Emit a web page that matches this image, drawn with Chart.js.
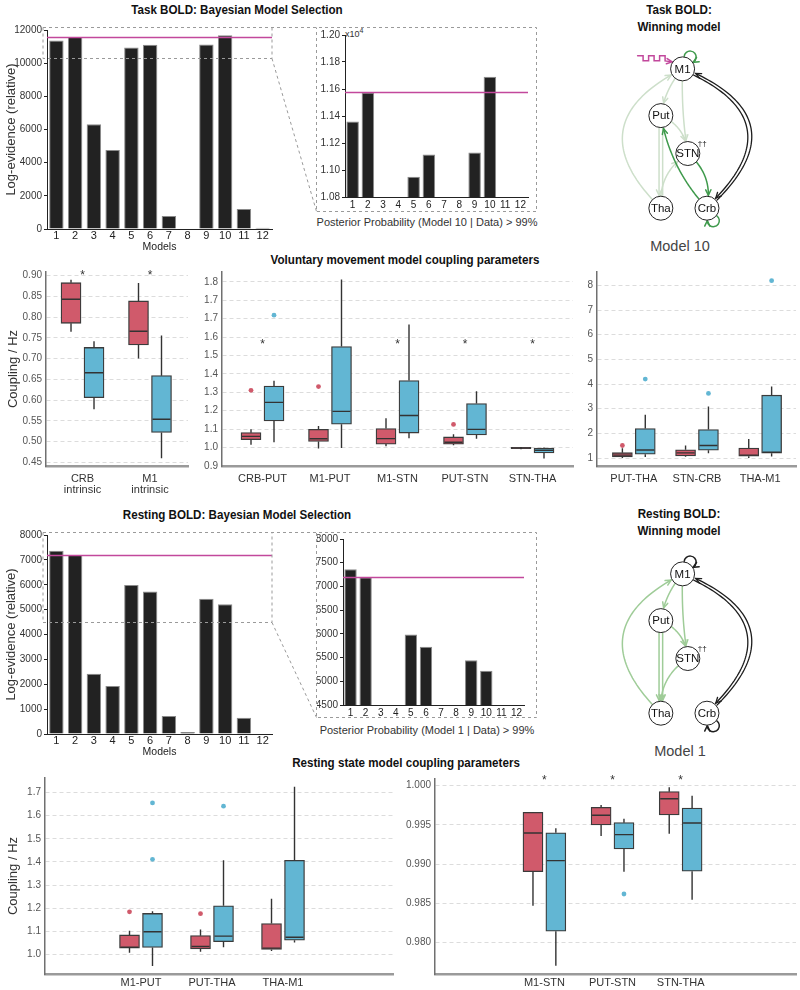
<!DOCTYPE html>
<html>
<head>
<meta charset="utf-8">
<title>BOLD model selection and coupling parameters</title>
<script src="https://cdn.jsdelivr.net/npm/chart.js@4.4.1/dist/chart.umd.min.js"></script>
<style>
  html, body { margin: 0; padding: 0; background: #fff; }
  #fig { position: relative; width: 800px; height: 990px; overflow: hidden;
         font-family: "Liberation Sans", Arial, sans-serif; color: #222; }
  .panel { position: absolute; }
  .panel canvas { display: block; }
  .txt { position: absolute; white-space: nowrap; line-height: 1; transform: translateX(-50%); }
  .title { font-weight: bold; font-size: 13.5px; color: #111; transform: translateX(-50%) scaleX(0.86); }
  .note { font-size: 11px; color: #333; }
  .model { font-size: 14.5px; color: #444; }
  .exp { font-size: 9px; color: #333; transform: none; }
  .exp sup { font-size: 7px; }
</style>
</head>
<body>
<div id="fig">
  <div class="txt title" style="left:237px;top:3px">Task BOLD: Bayesian Model Selection</div>
  <div class="txt title" style="left:679px;top:3px">Task BOLD:</div>
  <div class="txt title" style="left:679px;top:20px">Winning model</div>
  <div class="txt exp" style="left:345px;top:27px">x10<sup>4</sup></div>
  <div class="txt note" style="left:427px;top:217px">Posterior Probability (Model 10 | Data) &gt; 99%</div>
  <div class="txt model" style="left:680px;top:239px">Model 10</div>
  <div class="txt title" style="left:405px;top:253px">Voluntary movement model coupling parameters</div>
  <div class="txt title" style="left:237px;top:508px">Resting BOLD: Bayesian Model Selection</div>
  <div class="txt title" style="left:679px;top:507px">Resting BOLD:</div>
  <div class="txt title" style="left:679px;top:524px">Winning model</div>
  <div class="txt note" style="left:427px;top:725px">Posterior Probability (Model 1 | Data) &gt; 99%</div>
  <div class="txt model" style="left:680px;top:744px">Model 1</div>
  <div class="txt title" style="left:406px;top:756px">Resting state model coupling parameters</div>
</div>
<script>
// ---- data ----
const models = ['1', '2', '3', '4', '5', '6', '7', '8', '9', '10', '11', '12'];

// task BOLD log-evidence (relative) per model
const taskEvidence = [11360, 11575, 6320, 4760, 10950, 11115, 780, 0, 11130, 11690, 1200, 80];
const taskWinLine = 11575;
const taskTicks = [0, 2000, 4000, 6000, 8000, 10000, 12000];
const taskInsetTicks = [10800, 11000, 11200, 11400, 11600, 11800, 12000];
const taskZoom = [10300, 12000];

// resting BOLD log-evidence (relative) per model
const restEvidence = [7362, 7191, 2427, 1933, 5989, 5729, 720, 80, 5441, 5221, 653, 20];
const restWinLine = 7190;
const restTicks = [0, 1000, 2000, 3000, 4000, 5000, 6000, 7000, 8000];
const restInsetTicks = [4500, 5000, 5500, 6000, 6500, 7000, 7500, 8000];
const restZoom = [4500, 8000];

// box stats: [min, q1, median, q3, max]
const intrCats = [['CRB', 'intrinsic'], ['M1', 'intrinsic']];
const intrRed = [[0.765, 0.785, 0.843, 0.883, 0.890], [0.700, 0.733, 0.766, 0.839, 0.882]];
const intrBlue = [[0.578, 0.606, 0.666, 0.727, 0.742], [0.460, 0.522, 0.554, 0.659, 0.756]];
const intrRedOut = [];
const intrBlueOut = [];
const intrStars = [0, 1];
const intrTicks = [0.45, 0.50, 0.55, 0.60, 0.65, 0.70, 0.75, 0.80, 0.85, 0.90];

const volCats = ['CRB-PUT', 'M1-PUT', 'M1-STN', 'PUT-STN', 'STN-THA'];
const volRed = [
  [1.004, 1.029, 1.045, 1.063, 1.080],
  [0.985, 1.020, 1.033, 1.079, 1.095],
  [0.997, 1.007, 1.034, 1.083, 1.133],
  [1.001, 1.007, 1.016, 1.042, 1.055],
  [0.982, 0.985, 0.988, 0.991, 0.993]
];
const volBlue = [
  [1.016, 1.120, 1.211, 1.291, 1.316],
  [0.988, 1.104, 1.167, 1.484, 1.811],
  [1.035, 1.061, 1.147, 1.318, 1.591],
  [1.033, 1.052, 1.079, 1.205, 1.265],
  [0.937, 0.964, 0.977, 0.988, 0.990]
];
const volRedOut = [[0, 1.270], [1, 1.288], [3, 1.103]];
const volBlueOut = [[0, 1.637]];
const volStars = [0, 2, 3, 4];
const volTicks = [0.9, 0.99, 1.08, 1.17, 1.26, 1.35, 1.44, 1.53, 1.62, 1.71, 1.8];
const volTickLabels = ['0.9', '1.0', '1.1', '1.2', '1.3', '1.4', '1.5', '1.6', '1.7', '1.7', '1.8'];

const vol2Cats = ['PUT-THA', 'STN-CRB', 'THA-M1'];
const vol2Red = [[1.00, 1.05, 1.12, 1.22, 1.40], [1.05, 1.09, 1.21, 1.34, 1.51], [1.00, 1.08, 1.12, 1.41, 1.77]];
const vol2Blue = [[1.04, 1.16, 1.33, 2.20, 2.76], [1.20, 1.32, 1.51, 2.16, 3.09], [1.06, 1.20, 1.24, 3.55, 3.90]];
const vol2RedOut = [[0, 1.51]];
const vol2BlueOut = [[0, 4.20], [1, 3.62], [2, 8.19]];
const vol2Ticks = [1, 2, 3, 4, 5, 6, 7, 8];

const restCats = ['M1-PUT', 'PUT-THA', 'THA-M1'];
const restRed = [[1.007, 1.027, 1.031, 1.084, 1.102], [1.011, 1.023, 1.034, 1.081, 1.108], [1.015, 1.021, 1.027, 1.133, 1.241]];
const restBlue = [[0.950, 1.030, 1.098, 1.177, 1.186], [1.031, 1.055, 1.079, 1.210, 1.407], [1.051, 1.061, 1.074, 1.407, 1.725]];
const restRedOut = [[0, 1.184], [1, 1.176]];
const restBlueOut = [[0, 1.655], [0, 1.411], [1, 1.641]];
const restBoxTicks = [1.0, 1.1, 1.2, 1.3, 1.4, 1.5, 1.6, 1.7];

const rest2Cats = ['M1-STN', 'PUT-STN', 'STN-THA'];
const rest2Red = [[0.98471, 0.98905, 0.99397, 0.99660, 0.99665], [0.99359, 0.99500, 0.99623, 0.99725, 0.99754], [0.99389, 0.99627, 0.99834, 0.99924, 0.99980]];
const rest2Blue = [[0.97707, 0.98145, 0.99045, 0.99400, 0.99457], [0.98905, 0.99194, 0.99376, 0.99529, 0.99580], [0.98548, 0.98910, 0.99525, 0.99716, 0.99873]];
const rest2RedOut = [];
const rest2BlueOut = [[1, 0.9862]];
const rest2Stars = [0, 1, 2];
const rest2Ticks = [0.980, 0.985, 0.990, 0.995, 1.000];

// network diagrams
const netNodes = ['M1', 'Put', 'STN', 'Tha', 'Crb'];
const netX = [80, 55, 86, 55, 108];
const netY = [18, 71, 114, 176, 176];
// [from, to, colour, bend, shift, arrow]
const taskEdges = [
  ['Tha', 'M1', 'faint', -0.7, 0, 1],
  ['M1', 'Put', 'faint', 0.15, 0, 1],
  ['M1', 'STN', 'faint', 0.05, 0, 1],
  ['Put', 'STN', 'faint', -0.3, 0, 1],
  ['Put', 'Tha', 'faint', 0, 1.8, 1],
  ['Put', 'Tha', 'faint', 0, -1.8, 0],
  ['Tha', 'STN', 'faint', -0.3, 0, 1],
  ['STN', 'Crb', 'green', -0.3, 0, 1],
  ['Crb', 'Put', 'green', -0.15, 0, 1],
  ['M1', 'Crb', 'black', -0.78, 2, 1],
  ['Crb', 'M1', 'black', 0.78, 2, 1]
];
const taskLoops = [['M1', 'green', -1.0], ['Crb', 'green', 1.1]];
const taskInputs = ['M1'];
const restEdges = [
  ['Tha', 'M1', 'faint', -0.7, 0, 1],
  ['M1', 'Put', 'faint', 0.15, 0, 1],
  ['M1', 'STN', 'faint', 0.05, 0, 1],
  ['Put', 'STN', 'faint', -0.3, 0, 1],
  ['Put', 'Tha', 'faint', 0, 1.8, 1],
  ['Put', 'Tha', 'faint', 0, -1.8, 1],
  ['STN', 'Tha', 'faint', 0.3, 0, 1],
  ['M1', 'Crb', 'black', -0.78, 2, 1],
  ['Crb', 'M1', 'black', 0.78, 2, 1]
];
const restLoops = [['M1', 'black', -1.0], ['Crb', 'black', 1.1]];
const restInputs = [];

// ---- styles ----
const RED = '#d05a6b';
const BLUE = '#62b6d3';
const MAGENTA = '#c2489c';
const BOX_W = 20;
const BOX_SHIFT = 11.5;
const NODE_R = 12;

Chart.defaults.font.family = '"Liberation Sans", Arial, sans-serif';
Chart.defaults.font.size = 10;
Chart.defaults.color = '#444';
Chart.defaults.animation = false;
Chart.defaults.events = [];
Chart.defaults.plugins.legend.display = false;
Chart.defaults.plugins.tooltip.enabled = false;

const fig = document.getElementById('fig');

function makeCanvas(left, top, w, h) {
  const div = document.createElement('div');
  div.className = 'panel';
  Object.assign(div.style, { left: left + 'px', top: top + 'px', width: w + 'px', height: h + 'px' });
  const cv = document.createElement('canvas');
  cv.width = w;
  cv.height = h;
  div.appendChild(cv);
  fig.appendChild(div);
  return cv;
}

// horizontal line for the winning model threshold
function hline(value) {
  return {
    id: 'hline',
    afterDatasetsDraw(chart) {
      const { ctx, chartArea: a, scales: { y } } = chart;
      const py = Math.round(y.getPixelForValue(value)) + 0.5;
      ctx.save();
      ctx.strokeStyle = MAGENTA;
      ctx.lineWidth = 1.5;
      ctx.beginPath();
      ctx.moveTo(a.left, py);
      ctx.lineTo(a.right, py);
      ctx.stroke();
      ctx.restore();
    }
  };
}

// [left, top, width, height, yAxisWidth, padTop, padRight, xAxisHeight]
function evidenceChart(rect, values, winLine, ticks, fmt, opt) {
  const [left, top, w, h, yW, padTop, padRight, xH] = rect;
  const cv = makeCanvas(left, top, w, h);
  return new Chart(cv, {
    type: 'bar',
    data: {
      labels: models,
      datasets: [{
        data: values,
        backgroundColor: '#222',
        borderColor: '#8a8a8a',
        borderWidth: 1,
        barPercentage: opt.barPct,
        categoryPercentage: 1
      }]
    },
    options: {
      responsive: false,
      layout: { padding: { top: padTop, right: padRight, left: 0, bottom: 0 } },
      scales: {
        x: {
          grid: { display: false, drawTicks: false },
          border: { color: '#222', width: 1 },
          ticks: { color: '#222', font: { size: opt.xFont }, padding: opt.titles ? 0 : 2, autoSkip: false, maxRotation: 0 },
          title: { display: opt.titles, text: 'Models', color: '#222', font: { size: 10.5 }, padding: { top: 0, bottom: 0 } },
          afterFit: s => { s.height = xH; }
        },
        y: {
          min: ticks[0],
          max: ticks[ticks.length - 1],
          afterBuildTicks: s => { s.ticks = ticks.map(v => ({ value: v })); },
          grid: { drawOnChartArea: false, drawTicks: true, tickLength: 3, color: '#222' },
          border: { color: '#222', width: 1 },
          ticks: { callback: fmt, color: '#333', font: { size: opt.yFont }, padding: 2 },
          title: { display: opt.titles, text: 'Log-evidence (relative)', color: '#333', font: { size: 13 }, padding: { top: 4 } },
          afterFit: s => { s.width = yW; }
        }
      }
    },
    plugins: [hline(winLine)]
  });
}

// whiskers, medians and significance stars
function boxDecor(groups, stars, starY) {
  return {
    id: 'boxDecor',
    afterDatasetsDraw(chart) {
      const { ctx, scales: { x, y } } = chart;
      ctx.save();
      ctx.strokeStyle = '#333';
      ctx.lineWidth = 1.4;
      groups.forEach(g => {
        g.stats.forEach((s, i) => {
          const px = x.getPixelForValue(i + 1 + g.shift);
          const [mn, q1, md, q3, mx] = s.map(v => y.getPixelForValue(v));
          ctx.beginPath();
          ctx.moveTo(px, q1); ctx.lineTo(px, mn);
          ctx.moveTo(px, q3); ctx.lineTo(px, mx);
          ctx.moveTo(px - BOX_W / 2 + 1, md); ctx.lineTo(px + BOX_W / 2 - 1, md);
          ctx.stroke();
        });
      });
      ctx.fillStyle = '#333';
      ctx.font = '12px "Liberation Sans", Arial, sans-serif';
      ctx.textAlign = 'center';
      ctx.textBaseline = 'middle';
      stars.forEach(i => {
        ctx.fillText('*', x.getPixelForValue(i + 1), y.getPixelForValue(starY) + 3);
      });
      ctx.restore();
    }
  };
}

function couplingChart(rect, p) {
  const [left, top, w, h, yW, padTop, padRight, xH] = rect;
  const cv = makeCanvas(left, top, w, h);
  const unitPx = (w - yW - padRight) / (p.xRange[1] - p.xRange[0]);
  const sh = BOX_SHIFT / unitPx;
  const groups = [
    { stats: p.red, out: p.redOut, color: RED, shift: -sh },
    { stats: p.blue, out: p.blueOut, color: BLUE, shift: sh }
  ];
  const datasets = [];
  groups.forEach(g => datasets.push({
    type: 'bar',
    data: g.stats.map((s, i) => ({ x: i + 1 + g.shift, y: [s[1], s[3]] })),
    grouped: false,
    barThickness: BOX_W,
    backgroundColor: g.color,
    borderColor: '#3b3b3b',
    borderWidth: 1.3,
    borderSkipped: false
  }));
  groups.forEach(g => datasets.push({
    type: 'scatter',
    data: g.out.map(([i, v]) => ({ x: i + 1 + g.shift, y: v })),
    pointRadius: 2.4,
    backgroundColor: g.color,
    borderWidth: 0
  }));
  return new Chart(cv, {
    type: 'bar',
    data: { datasets },
    options: {
      responsive: false,
      layout: { padding: { top: padTop, right: padRight, left: 0, bottom: 0 } },
      scales: {
        x: {
          type: 'linear',
          min: p.xRange[0],
          max: p.xRange[1],
          offset: false,
          afterBuildTicks: s => { s.ticks = p.cats.map((c, i) => ({ value: i + 1 })); },
          grid: { display: false, drawTicks: false, offset: false },
          border: { color: '#9a9a9a', width: 2.5 },
          ticks: {
            callback: v => p.cats[Math.round(v) - 1],
            color: '#333',
            font: { size: 11, lineHeight: 0.95 },
            padding: p.xPad,
            autoSkip: false,
            maxRotation: 0
          },
          afterFit: s => { s.height = xH; }
        },
        y: {
          min: p.yRange[0],
          max: p.yRange[1],
          afterBuildTicks: s => { s.ticks = p.ticks.map(v => ({ value: v })); },
          grid: { color: '#dcdcdc', lineWidth: 1, drawTicks: false },
          border: { color: '#707070', width: 1.5, dash: [4, 3] },
          ticks: { callback: p.fmt, color: '#555', font: { size: 10 }, padding: 4 },
          title: { display: !!p.yTitle, text: p.yTitle || '', color: '#333', font: { size: 13 }, padding: { top: 6 } },
          afterFit: s => { s.width = yW; }
        }
      }
    },
    plugins: [boxDecor(groups, p.stars, p.starY)]
  });
}

// ---- network diagram ----
function arrowHead(ctx, tip, ang) {
  const L = 6, spread = 0.45;
  ctx.beginPath();
  ctx.moveTo(tip.x - L * Math.cos(ang - spread), tip.y - L * Math.sin(ang - spread));
  ctx.lineTo(tip.x, tip.y);
  ctx.lineTo(tip.x - L * Math.cos(ang + spread), tip.y - L * Math.sin(ang + spread));
  ctx.stroke();
}

function drawEdge(ctx, a, b, bend, shift, color, arrow) {
  const dx = b.x - a.x, dy = b.y - a.y, len = Math.hypot(dx, dy);
  const nx = -dy / len, ny = dx / len;
  const p0 = { x: a.x + nx * shift, y: a.y + ny * shift };
  const p1 = { x: b.x + nx * shift, y: b.y + ny * shift };
  const k = bend * len + shift;
  const c = { x: (a.x + b.x) / 2 + nx * k, y: (a.y + b.y) / 2 + ny * k };
  const at = t => {
    const u = 1 - t;
    return { x: u * u * p0.x + 2 * u * t * c.x + t * t * p1.x, y: u * u * p0.y + 2 * u * t * c.y + t * t * p1.y };
  };
  let t0 = 0, t1 = 1;
  while (t0 < 0.5 && Math.hypot(at(t0).x - a.x, at(t0).y - a.y) < NODE_R) t0 += 0.004;
  while (t1 > 0.5 && Math.hypot(at(t1).x - b.x, at(t1).y - b.y) < NODE_R + 1) t1 -= 0.004;
  ctx.strokeStyle = color;
  ctx.beginPath();
  const n = 60;
  for (let j = 0; j <= n; j++) {
    const pt = at(t0 + (t1 - t0) * j / n);
    if (j === 0) ctx.moveTo(pt.x, pt.y); else ctx.lineTo(pt.x, pt.y);
  }
  ctx.stroke();
  if (arrow) {
    const tip = at(t1), prev = at(t1 - 0.03);
    arrowHead(ctx, tip, Math.atan2(tip.y - prev.y, tip.x - prev.x));
  }
}

function drawLoop(ctx, p, theta, color) {
  const d = NODE_R + 2, rho = 6;
  const cx = p.x + d * Math.cos(theta), cy = p.y + d * Math.sin(theta);
  const s = theta + Math.PI + 1.1, e = theta + Math.PI - 1.1 + 2 * Math.PI;
  ctx.strokeStyle = color;
  ctx.beginPath();
  ctx.arc(cx, cy, rho, s, e);
  ctx.stroke();
  const tip = { x: cx + rho * Math.cos(e), y: cy + rho * Math.sin(e) };
  arrowHead(ctx, tip, e + Math.PI / 2);
}

function drawInput(ctx, p) {
  const x0 = p.x - 45, hi = p.y - 13, lo = p.y - 8, step = 5.5;
  ctx.strokeStyle = MAGENTA;
  ctx.beginPath();
  ctx.moveTo(x0, hi);
  let x = x0, up = true;
  for (let j = 0; j < 5; j++) {
    x += step;
    ctx.lineTo(x, up ? hi : lo);
    up = !up;
    ctx.lineTo(x, up ? hi : lo);
  }
  const tip = { x: p.x - 10.5, y: p.y - 7 };
  ctx.lineTo(tip.x, tip.y);
  ctx.stroke();
  arrowHead(ctx, tip, Math.atan2(tip.y - lo, tip.x - x));
}

function networkChart(left, top, edges, loops, inputs, palette) {
  const cv = makeCanvas(left, top, 200, 220);
  const pos = (chart, name) => {
    const i = netNodes.indexOf(name);
    return { x: chart.scales.x.getPixelForValue(netX[i]), y: chart.scales.y.getPixelForValue(netY[i]) };
  };
  return new Chart(cv, {
    type: 'scatter',
    data: {
      datasets: [{
        data: netNodes.map((n, i) => ({ x: netX[i], y: netY[i] })),
        pointRadius: NODE_R,
        pointBackgroundColor: '#fff',
        pointBorderColor: '#222',
        pointBorderWidth: 1,
        clip: false
      }]
    },
    options: {
      responsive: false,
      layout: { padding: 0 },
      scales: {
        x: { type: 'linear', min: 0, max: 200, display: false },
        y: { type: 'linear', min: 0, max: 220, reverse: true, display: false }
      }
    },
    plugins: [{
      id: 'network',
      beforeDatasetsDraw(chart) {
        const ctx = chart.ctx;
        ctx.save();
        ctx.lineCap = 'round';
        edges.forEach(([f, t, col, bend, shift, arrow]) => {
          ctx.lineWidth = col === 'black' ? 1.3 : 1.5;
          drawEdge(ctx, pos(chart, f), pos(chart, t), bend, shift, palette[col], arrow);
        });
        ctx.lineWidth = 1.5;
        loops.forEach(([n, col, th]) => drawLoop(ctx, pos(chart, n), th, palette[col]));
        inputs.forEach(n => drawInput(ctx, pos(chart, n)));
        ctx.restore();
      },
      afterDatasetsDraw(chart) {
        const ctx = chart.ctx;
        ctx.save();
        ctx.fillStyle = '#111';
        ctx.textAlign = 'center';
        ctx.textBaseline = 'middle';
        ctx.font = '11.5px "Liberation Sans", Arial, sans-serif';
        netNodes.forEach(n => {
          const p = pos(chart, n);
          ctx.fillText(n, p.x, p.y + 0.5);
        });
        const s = pos(chart, 'STN');
        ctx.font = '8px "Liberation Sans", Arial, sans-serif';
        ctx.textAlign = 'left';
        ctx.fillText('\u2020\u2020', s.x + 10, s.y - 10);
        ctx.restore();
      }
    }]
  });
}

// ---- build ----
const plain = v => String(v);
const taskMain = evidenceChart([0, 22, 276, 231, 47, 7, 4, 24], taskEvidence, taskWinLine, taskTicks, plain,
  { barPct: 0.77, xFont: 11, yFont: 10, titles: true });
const taskInset = evidenceChart([317, 27, 219, 184, 28, 4, 8, 14], taskEvidence, taskWinLine, taskInsetTicks,
  v => (v / 1e4).toFixed(2), { barPct: 0.82, xFont: 10, yFont: 10, titles: false });
const restMain = evidenceChart([0, 527, 276, 231, 47, 7, 4, 24], restEvidence, restWinLine, restTicks, plain,
  { barPct: 0.77, xFont: 11, yFont: 10, titles: true });
const restInset = evidenceChart([317, 531, 219, 186, 26, 4, 12, 12], restEvidence, restWinLine, restInsetTicks, plain,
  { barPct: 0.82, xFont: 10, yFont: 10, titles: false });

couplingChart([0, 262, 192, 236, 46, 6, 4, 32], {
  cats: intrCats, red: intrRed, blue: intrBlue, redOut: intrRedOut, blueOut: intrBlueOut,
  stars: intrStars, starY: 0.906, ticks: intrTicks, fmt: v => v.toFixed(2),
  xRange: [0.459, 2.563], yRange: [0.4413, 0.9087], xPad: 8, yTitle: 'Coupling / Hz'
});
couplingChart([192, 262, 385, 236, 30, 6, 4, 32], {
  cats: volCats, red: volRed, blue: volBlue, redOut: volRedOut, blueOut: volBlueOut,
  stars: volStars, starY: 1.508, ticks: volTicks, fmt: (v, i) => volTickLabels[i],
  xRange: [0.4, 5.6], yRange: [0.9, 1.848], xPad: 8
});
couplingChart([577, 262, 223, 236, 20, 6, 3, 32], {
  cats: vol2Cats, red: vol2Red, blue: vol2Blue, redOut: vol2RedOut, blueOut: vol2BlueOut,
  stars: [], starY: 8, ticks: vol2Ticks, fmt: v => String(v),
  xRange: [0.417, 3.567], yRange: [0.68, 8.54], xPad: 8
});
couplingChart([0, 768, 397, 222, 45, 7, 4, 16], {
  cats: restCats, red: restRed, blue: restBlue, redOut: restRedOut, blueOut: restBlueOut,
  stars: [], starY: 1.7, ticks: restBoxTicks, fmt: v => v.toFixed(1),
  xRange: [-0.352, 4.549], yRange: [0.915, 1.763], xPad: 4, yTitle: 'Coupling / Hz'
});
couplingChart([397, 768, 403, 222, 38, 11, 2, 16], {
  cats: rest2Cats, red: rest2Red, blue: rest2Blue, redOut: rest2RedOut, blueOut: rest2BlueOut,
  stars: rest2Stars, starY: 1.00098, ticks: rest2Ticks, fmt: v => v.toFixed(3),
  xRange: [-0.606, 4.693], yRange: [0.97601, 1.00085], xPad: 4
});

networkChart(600, 40, taskEdges, taskLoops, taskInputs, { faint: '#cddfca', green: '#3f9a4c', black: '#1e1e1e' });
networkChart(600, 545, restEdges, restLoops, restInputs, { faint: '#9fcc98', black: '#1e1e1e' });

// dashed zoom guides between the main bar charts and their insets
const guides = document.createElement('canvas');
guides.width = 800;
guides.height = 990;
Object.assign(guides.style, { position: 'absolute', left: '0px', top: '0px', pointerEvents: 'none' });
fig.appendChild(guides);
const gctx = guides.getContext('2d');

function zoomGuide(main, inset, lo, hi) {
  const mo = main.canvas.parentNode, io = inset.canvas.parentNode;
  const ys = main.scales.y, a = main.chartArea;
  const x0 = mo.offsetLeft + a.left - 4, x1 = mo.offsetLeft + a.right;
  const yT = Math.round(mo.offsetTop + ys.getPixelForValue(hi) - 3) + 0.5;
  const yB = Math.round(mo.offsetTop + ys.getPixelForValue(lo)) + 0.5;
  const bx0 = io.offsetLeft - 0.5, bx1 = io.offsetLeft + io.offsetWidth + 0.5;
  const by1 = io.offsetTop + io.offsetHeight + 0.5;
  gctx.save();
  gctx.strokeStyle = '#9a9a9a';
  gctx.lineWidth = 1;
  gctx.setLineDash([3, 3]);
  gctx.beginPath();
  gctx.moveTo(x0, yT); gctx.lineTo(bx1, yT); gctx.lineTo(bx1, by1); gctx.lineTo(bx0, by1); gctx.lineTo(bx0, yT);
  gctx.moveTo(x0, yT); gctx.lineTo(x0, yB); gctx.lineTo(x1, yB); gctx.lineTo(x1, yT);
  gctx.moveTo(x1, yB); gctx.lineTo(bx0, by1);
  gctx.stroke();
  gctx.restore();
}
zoomGuide(taskMain, taskInset, taskZoom[0], taskZoom[1]);
zoomGuide(restMain, restInset, restZoom[0], restZoom[1]);
</script>
</body>
</html>
